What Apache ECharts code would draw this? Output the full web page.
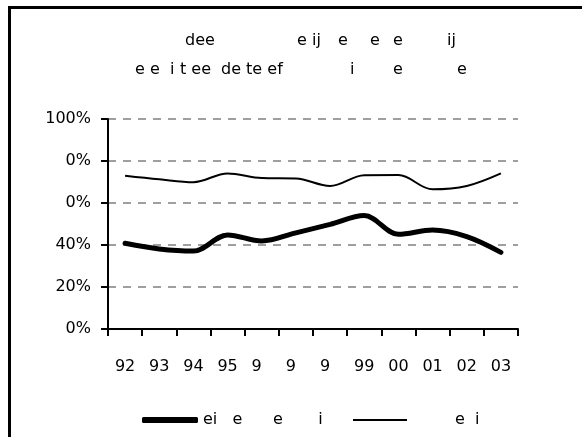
<!DOCTYPE html>
<html>
<head>
<meta charset="utf-8">
<script src="https://cdn.jsdelivr.net/npm/echarts@6/dist/echarts.min.js"></script>
<style>
html,body{margin:0;padding:0;background:#fff;}
#chart{width:582px;height:437px;}
</style>
</head>
<body>
<div id="chart"></div>
<script>
// ---- data ----
var categories = ['1992','1993','1994','1995','1996','1997','1998','1999','2000','2001','2002','2003'];
var xTickLabels = ['92','93','94','95','9\u2007','9\u2007','9\u2007','99','00','01','02','03'];
var yTickLabels = ['0%','20%','40%','0%','0%','100%'];
var thickName = 'ei   e      e       i';
var thinName = 'e  i';
var thickValues = [40.8, 38.1, 37.1, 44.8, 41.9, 45.8, 49.8, 54.0, 45.1, 47.1, 44.0, 36.5];
var thinValues  = [73.0, 71.3, 69.9, 74.1, 71.9, 71.7, 68.1, 73.2, 73.3, 66.5, 68.1, 74.1];
var titleLine1 = [['dee',185],['e ij',297],['e',338],['e',370],['e',393],['ij',447]];
var titleLine2 = [['e e',135],['i',170],['t ee',180],['de te ef',221],['i',350],['e',393],['e',457]];

var FONT = 'DejaVu Sans';
var FS = 16;
var chart = echarts.init(document.getElementById('chart'), null, {renderer:'canvas'});

var graphics = [
  {type:'line', shape:{x1:8, y1:7.5, x2:582, y2:7.5}, style:{stroke:'#000', lineWidth:3}},
  {type:'line', shape:{x1:9.5, y1:6, x2:9.5, y2:437}, style:{stroke:'#000', lineWidth:3}}
];
titleLine1.forEach(function(t){
  graphics.push({type:'text', x:t[1], y:41, style:{text:t[0], font:FS+'px "DejaVu Sans"', fill:'#000', textVerticalAlign:'middle', textAlign:'left'}});
});
titleLine2.forEach(function(t){
  graphics.push({type:'text', x:t[1], y:70, style:{text:t[0], font:FS+'px "DejaVu Sans"', fill:'#000', textVerticalAlign:'middle', textAlign:'left'}});
});

var option = {
  backgroundColor:'#fff',
  animation:false,
  textStyle:{fontFamily:FONT},
  grid:{left:108, right:64, top:119, bottom:108, containLabel:false},
  legend:[
    {data:[{name:thickName, icon:'roundRect'}], left:142, top:412, padding:0, itemWidth:56, itemHeight:6, itemGap:5,
     itemStyle:{color:'#000', borderWidth:0},
     textStyle:{fontFamily:FONT, fontSize:FS, color:'#000'}},
    {data:[{name:thinName, icon:'rect'}], left:353, top:412, padding:0, itemWidth:54, itemHeight:2,
     itemStyle:{color:'#000', borderWidth:0},
     textStyle:{fontFamily:FONT, fontSize:FS, color:'#000', padding:[0,0,0,43]}}
  ],
  xAxis:{
    type:'category', data:categories, boundaryGap:true,
    axisLine:{lineStyle:{color:'#000', width:2}},
    axisTick:{show:true, length:7, lineStyle:{color:'#000', width:2}},
    axisLabel:{margin:30, fontFamily:FONT, fontSize:FS, color:'#000',
      formatter:function(v,i){return xTickLabels[i];}},
    splitLine:{show:false}
  },
  yAxis:{
    type:'value', min:0, max:100, interval:20,
    axisLine:{show:true, lineStyle:{color:'#000', width:2}},
    axisTick:{show:true, length:7, lineStyle:{color:'#000', width:2}},
    axisLabel:{margin:17, fontFamily:FONT, fontSize:FS, color:'#000',
      formatter:function(v){return yTickLabels[Math.round(v/20)];}},
    splitLine:{show:true, lineStyle:{color:'#808080', width:1.5, type:[8,7]}}
  },
  series:[
    {name:thickName, type:'line', data:thickValues, smooth:0.35, showSymbol:false, symbol:'none',
     lineStyle:{color:'#000', width:5, cap:'round'}, itemStyle:{color:'#000'}},
    {name:thinName, type:'line', data:thinValues, smooth:0.35, showSymbol:false, symbol:'none',
     lineStyle:{color:'#000', width:2}, itemStyle:{color:'#000'}}
  ],
  graphic:graphics
};
chart.setOption(option);
</script>
</body>
</html>
